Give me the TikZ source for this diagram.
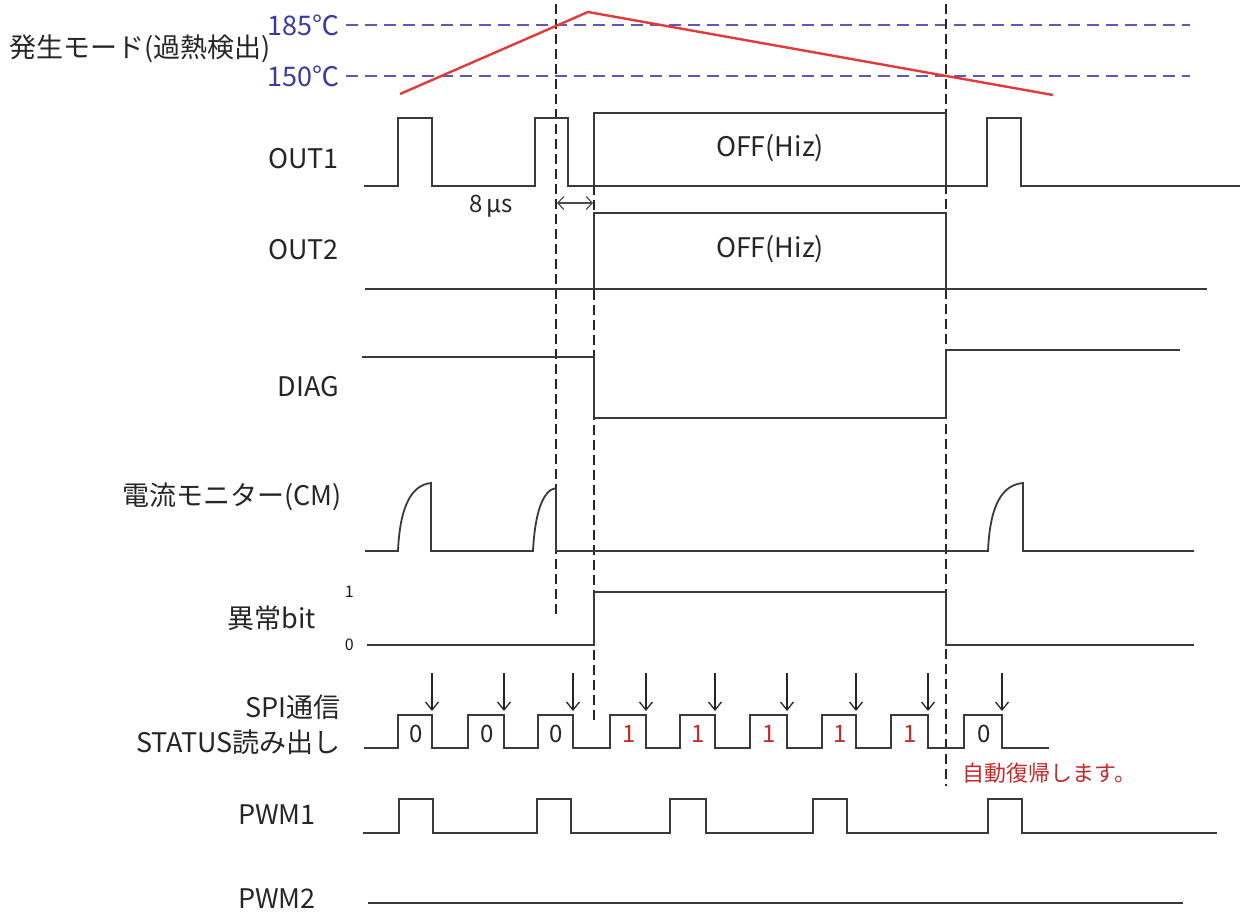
\documentclass[tikz,border=0pt]{standalone}
\usepackage{fontspec}
\setmainfont{Noto Sans CJK JP}
\usetikzlibrary{arrows.meta}
\definecolor{sigc}{HTML}{3A3A3A}
\definecolor{tblue}{HTML}{5A5ABE}
\definecolor{tbluetxt}{HTML}{3A3AA0}
\definecolor{tred}{HTML}{E03A3A}
\definecolor{txtred}{HTML}{C42A2A}
\begin{document}
\begin{tikzpicture}[x=1pt,y=-1pt,
  sig/.style={draw=sigc, line width=1.8pt, line join=miter},
  vdash/.style={draw=black!85, line width=1.3pt, dash pattern=on 10pt off 5pt},
  bdash/.style={draw=tblue, line width=1.6pt, dash pattern=on 12pt off 7pt},
  tline/.style={draw=tred, line width=2.4pt},
  lbl/.style={anchor=east, inner sep=0pt, font=\fontsize{27}{30}\selectfont, text=black!85},
  tlbl/.style={anchor=east, inner sep=0pt, font=\fontsize{27}{30}\selectfont, text=tbluetxt},
  boxtxt/.style={inner sep=0pt, font=\fontsize{27}{30}\selectfont, text=black!85},
  small/.style={inner sep=0pt, font=\fontsize{24}{26}\selectfont, text=black!85},
  tiny/.style={anchor=east, inner sep=0pt, font=\fontsize{16}{18}\selectfont, text=black!90},
  spidig/.style={inner sep=0pt, font=\fontsize{24}{26}\selectfont},
  spiarrow/.style={draw=black!85, line width=1.3pt, -{Straight Barb[length=8pt,width=13pt]}},
  dimarrow/.style={draw=black!70, line width=1.2pt, {Straight Barb[length=6pt,width=13pt]}-{Straight Barb[length=6pt,width=13pt]}}
]
\useasboundingbox (0,0) rectangle (1240,913);

% ---------- labels ----------
\node[anchor=west, inner sep=0pt, font=\fontsize{27}{30}\selectfont, text=black!85] (mode) at (9,49) {発生モード(過熱検出)};
\node[tlbl] (t185) at (340,25) {185℃};
\node[tlbl] (t150) at (340,76) {150℃};
\node[lbl] (out1) at (339,159) {OUT1};
\node[lbl] (out2) at (339,250) {OUT2};
\node[lbl] (diag) at (339,387) {DIAG};
\node[lbl] (cm) at (342,497) {電流モニター(CM)};
\node[lbl] (ijo) at (316,618) {異常bit};
\node[tiny] (one) at (354,592) {1};
\node[tiny] (zero) at (354,645) {0};
\node[lbl] (spi) at (341,707) {SPI通信};
\node[lbl] (status) at (341,742) {STATUS読み出し};
\node[lbl] (pwm1) at (316,815) {PWM1};
\node[lbl] (pwm2) at (316,899) {PWM2};

% ---------- temperature thresholds ----------
\coordinate (b185e) at (1190,25);
\coordinate (b150e) at (1190,76);
\draw[bdash] (t185.east) ++(6,0) -- (b185e);
\draw[bdash] (t150.east) ++(6,0) -- (b150e);

% ---------- vertical dashed markers ----------
\coordinate (v1t) at (556,4);   \coordinate (v1b) at (556,615);
\coordinate (v2t) at (594,185); \coordinate (v2b) at (594,722);
\coordinate (v3t) at (946,4);   \coordinate (v3b) at (946,786);
\draw[vdash] (v1t) -- (v1b);
\draw[vdash] (v2t) -- (v2b);
\draw[vdash] (v3t) -- (v3b);

% ---------- temperature curve ----------
\coordinate (tp0) at (400,94);
\coordinate (tp1) at (588,12);
\coordinate (tp2) at (1053,95);
\draw[tline] (tp0) -- (tp1) -- (tp2);

% ---------- OUT1 ----------
\draw[sig] (364,186) -- (398,186) -- (398,118) -- (432,118) -- (432,186)
  -- (535,186) -- (535,118) -- (568,118) -- (568,186) -- (987,186)
  -- (987,118) -- (1021,118) -- (1021,186) -- (1240,186);
\draw[sig] (594,186) -- (594,113) -- (946,113) -- (946,186);
\node[boxtxt] (off1) at (770,148) {OFF(Hiz)};

% 8us
\node[small] (t8us) at (491,206) {8\,μs};
\coordinate (d8a) at (557,203);
\coordinate (d8b) at (593,203);
\draw[dimarrow] (d8a) -- (d8b);

% ---------- OUT2 ----------
\draw[sig] (365,289) -- (1207,289);
\draw[sig] (594,289) -- (594,213) -- (946,213) -- (946,289);
\node[boxtxt] (off2) at (770,249) {OFF(Hiz)};

% ---------- DIAG ----------
\draw[sig] (362,357) -- (594,357) -- (594,418) -- (946,418) -- (946,350) -- (1180,350);

% ---------- CM ----------
\draw[sig] (365,551) -- (398,551) .. controls (400,505) and (412,485) .. (431,483)
  -- (431,551) -- (533,551) .. controls (535,512) and (543,490) .. (556,488)
  -- (556,551) -- (988,551) .. controls (990,505) and (1002,485) .. (1023,483)
  -- (1023,551) -- (1194,551);

% ---------- error bit ----------
\draw[sig] (367,645) -- (594,645) -- (594,592) -- (946,592) -- (946,645) -- (1194,645);

% ---------- SPI ----------
\draw[sig] (364,748) -- (398,748) -- (398,715) -- (432,715) -- (432,748)
  -- (468,748) -- (468,715) -- (504,715) -- (504,748)
  -- (538,748) -- (538,715) -- (573,715) -- (573,748)
  -- (610,748) -- (610,715) -- (646,715) -- (646,748)
  -- (680,748) -- (680,715) -- (715,715) -- (715,748)
  -- (750,748) -- (750,715) -- (787,715) -- (787,748)
  -- (822,748) -- (822,715) -- (856,715) -- (856,748)
  -- (891,748) -- (891,715) -- (928,715) -- (928,748)
  -- (964,748) -- (964,715) -- (1002,715) -- (1002,748) -- (1049,748);
\foreach \s/\e/\d/\c [count=\i] in {398/432/0/black!85, 468/504/0/black!85, 538/573/0/black!85,
  610/646/1/txtred, 680/715/1/txtred, 750/787/1/txtred, 822/856/1/txtred, 891/928/1/txtred,
  964/1002/0/black!85} {
  \node[spidig, text=\c] (dg\i) at ({(\s+\e)/2+1}, 734) {\d};
  \coordinate (sa\i) at (\e,673);
  \coordinate (sb\i) at (\e,711);
  \draw[spiarrow] (sa\i) -- (sb\i);
}
\node[anchor=west, inner sep=0pt, font=\fontsize{22}{24}\selectfont, text=txtred] (auto) at (962,773) {自動復帰します。};

% ---------- PWM ----------
\draw[sig] (363,833) -- (399,833) -- (399,799) -- (433,799) -- (433,833)
  -- (537,833) -- (537,799) -- (571,799) -- (571,833)
  -- (670,833) -- (670,799) -- (706,799) -- (706,833)
  -- (813,833) -- (813,799) -- (847,799) -- (847,833)
  -- (988,833) -- (988,799) -- (1022,799) -- (1022,833) -- (1217,833);
\draw[sig] (368,903) -- (1183,903);
\end{tikzpicture}
\end{document}
